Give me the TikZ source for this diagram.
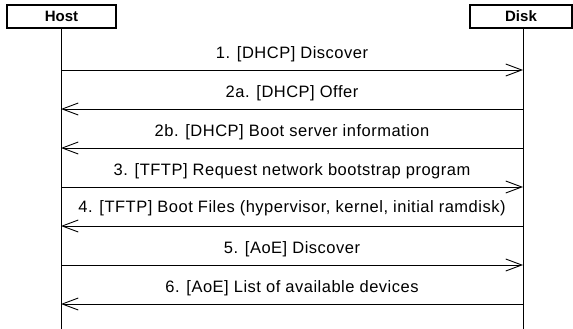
\documentclass[tikz,border=0pt]{standalone}
\usepackage{fontspec}
\setmainfont{Liberation Sans}
\newfontfamily\msgfont[LetterSpace=3]{Liberation Sans}
\usetikzlibrary{arrows.meta}
\begin{document}
\begin{tikzpicture}[x=1pt,y=-1pt,
  actor/.style={draw,line width=1.2pt,minimum width=109pt,minimum height=23pt,inner sep=0pt,font=\fontsize{15}{16}\selectfont\bfseries},
  life/.style={line width=0.9pt},
  msg/.style={line width=0.9pt,-{Straight Barb[length=16pt,width=12pt,line width=0.9pt]}},
  lbl/.style={anchor=base,inner sep=0pt,font=\msgfont\fontsize{16.5}{18}\selectfont}]
\useasboundingbox (0,0) rectangle (573,329);
% participants
\node[actor] (host) at (61.5,16.5) {Host};
\node[actor,minimum width=102pt] (disk) at (521,16.5) {Disk};
\coordinate (hs) at (61,28);
\coordinate (ds) at (523,28);
\coordinate (he) at (61,329);
\coordinate (de) at (523,329);
\draw[life] (hs) -- (he);
\draw[life] (ds) -- (de);
% message end points on the lifelines
\foreach \n/\y in {1/70,2/109,3/148,4/187,5/226,6/265,7/304}{
  \coordinate (h\n) at (61,\y);
  \coordinate (d\n) at (523,\y);
}
% messages
\draw[msg] (h1) -- node[lbl,above=8pt] {1. [DHCP] Discover} (d1);
\draw[msg] (d2) -- node[lbl,above=8pt] {2a. [DHCP] Offer} (h2);
\draw[msg] (d3) -- node[lbl,above=8pt] {2b. [DHCP] Boot server information} (h3);
\draw[msg] (h4) -- node[lbl,above=8pt] {3. [TFTP] Request network bootstrap program} (d4);
\draw[msg] (d5) -- node[lbl,above=10pt] {4. [TFTP] Boot Files (hypervisor, kernel, initial ramdisk)} (h5);
\draw[msg] (h6) -- node[lbl,above=8pt] {5. [AoE] Discover} (d6);
\draw[msg] (d7) -- node[lbl,above=8pt] {6. [AoE] List of available devices} (h7);
\end{tikzpicture}
\end{document}
